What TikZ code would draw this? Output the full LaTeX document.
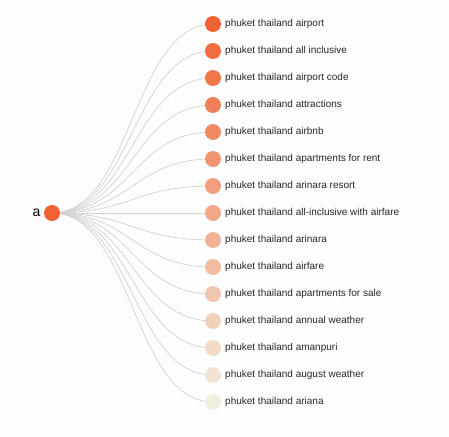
\documentclass[tikz,border=0pt]{standalone}
\usepackage{fontspec}
\setmainfont{Liberation Sans}
\usepackage{xcolor}
\usepackage{tikz}
\usetikzlibrary{calc, backgrounds}
\definecolor{myorange}{RGB}{241,98,50}
\definecolor{mypale}{RGB}{242,238,224}
\definecolor{mylink}{RGB}{210,210,210}
\definecolor{mytext}{RGB}{40,40,40}
\definecolor{mybg}{RGB}{253,253,253}
\tikzset{
  rootdot/.style={circle, fill=myorange, minimum size=16pt, inner sep=0pt},
  leafdot/.style={circle, minimum size=16pt, inner sep=0pt},
  leaflabel/.style={anchor=west, inner sep=0pt, font=\fontsize{10}{12}\selectfont, text=mytext},
  link/.style={color=mylink, line width=0.7pt}
}

\begin{document}
\begin{tikzpicture}[x=1pt, y=-1pt]
  \useasboundingbox (0,0) rectangle (449,436);

  % Root
  \node[rootdot] (root) at (52,213) {};
  \node[anchor=east, font=\fontsize{14}{16}\selectfont] (root_lbl) at (44,213) {a};

  % Leaves
  \node[leafdot, fill=myorange!100!mypale] (l1) at (213,24) {};
  \node[leafdot, fill=myorange!93!mypale] (l2) at (213,51) {};
  \node[leafdot, fill=myorange!86!mypale] (l3) at (213,78) {};
  \node[leafdot, fill=myorange!79!mypale] (l4) at (213,105) {};
  \node[leafdot, fill=myorange!71!mypale] (l5) at (213,132) {};
  \node[leafdot, fill=myorange!64!mypale] (l6) at (213,159) {};
  \node[leafdot, fill=myorange!57!mypale] (l7) at (213,186) {};
  \node[leafdot, fill=myorange!50!mypale] (l8) at (213,213) {};
  \node[leafdot, fill=myorange!43!mypale] (l9) at (213,240) {};
  \node[leafdot, fill=myorange!36!mypale] (l10) at (213,267) {};
  \node[leafdot, fill=myorange!29!mypale] (l11) at (213,294) {};
  \node[leafdot, fill=myorange!21!mypale] (l12) at (213,321) {};
  \node[leafdot, fill=myorange!14!mypale] (l13) at (213,348) {};
  \node[leafdot, fill=myorange!7!mypale] (l14) at (213,375) {};
  \node[leafdot, fill=myorange!0!mypale] (l15) at (213,402) {};

  % Leaf labels
  \node[leaflabel] (t1) at ($(l1.center)+(12,0)$) {phuket thailand airport};
  \node[leaflabel] (t2) at ($(l2.center)+(12,0)$) {phuket thailand all inclusive};
  \node[leaflabel] (t3) at ($(l3.center)+(12,0)$) {phuket thailand airport code};
  \node[leaflabel] (t4) at ($(l4.center)+(12,0)$) {phuket thailand attractions};
  \node[leaflabel] (t5) at ($(l5.center)+(12,0)$) {phuket thailand airbnb};
  \node[leaflabel] (t6) at ($(l6.center)+(12,0)$) {phuket thailand apartments for rent};
  \node[leaflabel] (t7) at ($(l7.center)+(12,0)$) {phuket thailand arinara resort};
  \node[leaflabel] (t8) at ($(l8.center)+(12,0)$) {phuket thailand all-inclusive with airfare};
  \node[leaflabel] (t9) at ($(l9.center)+(12,0)$) {phuket thailand arinara};
  \node[leaflabel] (t10) at ($(l10.center)+(12,0)$) {phuket thailand airfare};
  \node[leaflabel] (t11) at ($(l11.center)+(12,0)$) {phuket thailand apartments for sale};
  \node[leaflabel] (t12) at ($(l12.center)+(12,0)$) {phuket thailand annual weather};
  \node[leaflabel] (t13) at ($(l13.center)+(12,0)$) {phuket thailand amanpuri};
  \node[leaflabel] (t14) at ($(l14.center)+(12,0)$) {phuket thailand august weather};
  \node[leaflabel] (t15) at ($(l15.center)+(12,0)$) {phuket thailand ariana};

  % Links (behind the dots)
  \begin{scope}[on background layer]
    \fill[mybg] (0,0) rectangle (449,436);
    \draw[link] (root.center) .. controls ($(root.center)+(80.5,0)$) and ($(l1.center)-(80.5,0)$) .. (l1.center);
    \draw[link] (root.center) .. controls ($(root.center)+(80.5,0)$) and ($(l2.center)-(80.5,0)$) .. (l2.center);
    \draw[link] (root.center) .. controls ($(root.center)+(80.5,0)$) and ($(l3.center)-(80.5,0)$) .. (l3.center);
    \draw[link] (root.center) .. controls ($(root.center)+(80.5,0)$) and ($(l4.center)-(80.5,0)$) .. (l4.center);
    \draw[link] (root.center) .. controls ($(root.center)+(80.5,0)$) and ($(l5.center)-(80.5,0)$) .. (l5.center);
    \draw[link] (root.center) .. controls ($(root.center)+(80.5,0)$) and ($(l6.center)-(80.5,0)$) .. (l6.center);
    \draw[link] (root.center) .. controls ($(root.center)+(80.5,0)$) and ($(l7.center)-(80.5,0)$) .. (l7.center);
    \draw[link] (root.center) .. controls ($(root.center)+(80.5,0)$) and ($(l8.center)-(80.5,0)$) .. (l8.center);
    \draw[link] (root.center) .. controls ($(root.center)+(80.5,0)$) and ($(l9.center)-(80.5,0)$) .. (l9.center);
    \draw[link] (root.center) .. controls ($(root.center)+(80.5,0)$) and ($(l10.center)-(80.5,0)$) .. (l10.center);
    \draw[link] (root.center) .. controls ($(root.center)+(80.5,0)$) and ($(l11.center)-(80.5,0)$) .. (l11.center);
    \draw[link] (root.center) .. controls ($(root.center)+(80.5,0)$) and ($(l12.center)-(80.5,0)$) .. (l12.center);
    \draw[link] (root.center) .. controls ($(root.center)+(80.5,0)$) and ($(l13.center)-(80.5,0)$) .. (l13.center);
    \draw[link] (root.center) .. controls ($(root.center)+(80.5,0)$) and ($(l14.center)-(80.5,0)$) .. (l14.center);
    \draw[link] (root.center) .. controls ($(root.center)+(80.5,0)$) and ($(l15.center)-(80.5,0)$) .. (l15.center);
  \end{scope}
\end{tikzpicture}
\end{document}
